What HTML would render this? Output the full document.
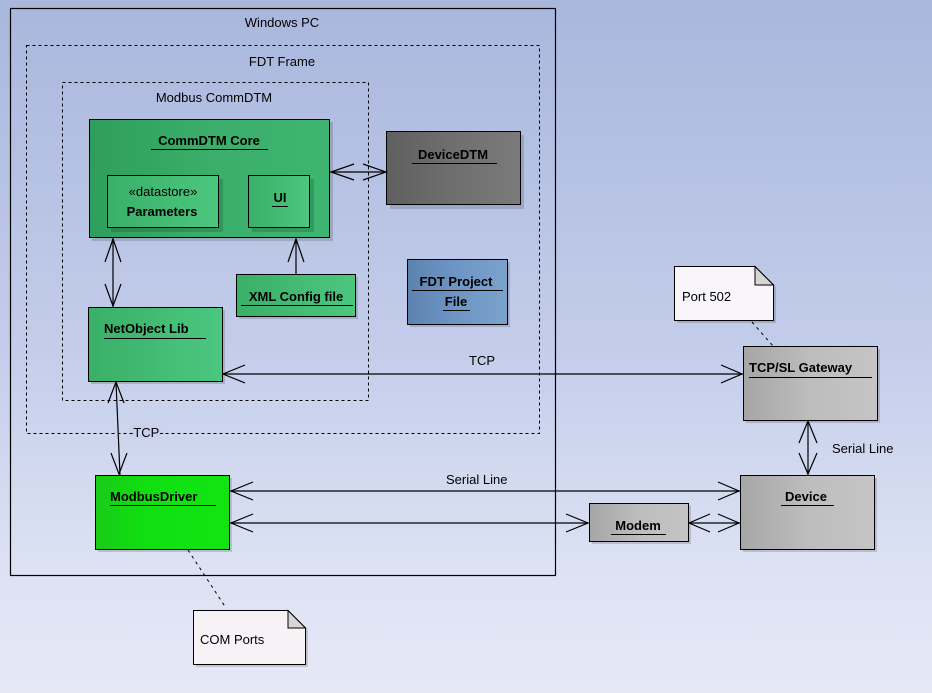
<!DOCTYPE html>
<html><head><meta charset="utf-8"><style>
html,body{margin:0;padding:0;}
body{width:932px;height:693px;overflow:hidden;}
svg{display:block;}
text{font-family:"Liberation Sans",sans-serif;font-size:13px;fill:#000;}
.b{font-weight:bold;}
</style></head><body>
<svg width="932" height="693" viewBox="0 0 932 693" xmlns="http://www.w3.org/2000/svg">
<defs>
<linearGradient id="bg" x1="0" y1="0" x2="0" y2="1">
<stop offset="0" stop-color="#a9b7dd"/><stop offset="0.5" stop-color="#c3cdea"/><stop offset="0.8" stop-color="#dbe1f3"/><stop offset="1" stop-color="#e6e8f6"/>
</linearGradient>
<linearGradient id="gr" x1="0" y1="0" x2="1" y2="0">
<stop offset="0" stop-color="#2e9e5c"/><stop offset="0.5" stop-color="#3aae6a"/><stop offset="1" stop-color="#3fb572"/></linearGradient>
<linearGradient id="gr2" x1="0" y1="0" x2="1" y2="0">
<stop offset="0" stop-color="#3aaf68"/><stop offset="1" stop-color="#4cc77f"/></linearGradient>
<linearGradient id="lg" x1="0" y1="0" x2="1" y2="0">
<stop offset="0" stop-color="#18cc18"/><stop offset="0.4" stop-color="#10e010"/><stop offset="1" stop-color="#12e412"/></linearGradient>
<linearGradient id="dg" x1="0" y1="0" x2="1" y2="0">
<stop offset="0" stop-color="#5f5f5f"/><stop offset="0.5" stop-color="#6f6f6f"/><stop offset="1" stop-color="#7a7a7a"/></linearGradient>
<linearGradient id="lgy" x1="0" y1="0" x2="1" y2="0">
<stop offset="0" stop-color="#a6a6a6"/><stop offset="0.5" stop-color="#bdbdbd"/><stop offset="1" stop-color="#c6c4c6"/></linearGradient>
<linearGradient id="bl" x1="0" y1="0" x2="1" y2="0">
<stop offset="0" stop-color="#5c82b0"/><stop offset="0.5" stop-color="#6e96c4"/><stop offset="1" stop-color="#7aa2cc"/></linearGradient>
</defs>
<rect width="932" height="693" fill="url(#bg)"/>

<rect x="10.5" y="8.5" width="545" height="567" fill="none" stroke="#000" stroke-width="1.2"/>
<text x="282" y="27" text-anchor="middle">Windows PC</text>
<rect x="26.5" y="45.5" width="513" height="388" fill="none" stroke="#000" stroke-dasharray="3,3"/>
<text x="282" y="66" text-anchor="middle">FDT Frame</text>
<rect x="62.5" y="82.5" width="306" height="318" fill="none" stroke="#000" stroke-dasharray="3,3"/>
<text x="214" y="102" text-anchor="middle">Modbus CommDTM</text>

<g fill="#000" opacity="0.15">
<rect x="92" y="122" width="241" height="119"/>
<rect x="390" y="135" width="134" height="74"/>
<rect x="239" y="277" width="119" height="42"/>
<rect x="410" y="262" width="100" height="65"/>
<rect x="91" y="310" width="134" height="74"/>
<rect x="98" y="478" width="134" height="74"/>
<rect x="746" y="349" width="134" height="74"/>
<rect x="743" y="478" width="134" height="74"/>
<rect x="592" y="506" width="99" height="38"/>
<path d="M677 269 H758 L776 287 V323 H677 Z"/>
<path d="M196 613 H291 L308 630 V667 H196 Z"/>
</g>

<rect x="89.5" y="119.5" width="240" height="118" fill="url(#gr)" stroke="#000"/>
<text x="209" y="145" text-anchor="middle" class="b">CommDTM Core</text>
<line x1="151" y1="149.5" x2="268" y2="149.5" stroke="#000"/>
<rect x="111" y="179" width="112" height="53" fill="#000" opacity="0.15"/>
<rect x="107.5" y="175.5" width="111" height="52" fill="url(#gr2)" stroke="#000"/>
<text x="163" y="196" text-anchor="middle">«datastore»</text>
<text x="162" y="216" text-anchor="middle" class="b">Parameters</text>
<rect x="252" y="179" width="62" height="53" fill="#000" opacity="0.15"/>
<rect x="248.5" y="175.5" width="61" height="52" fill="url(#gr2)" stroke="#000"/>
<text x="280" y="202" text-anchor="middle" class="b">UI</text>
<line x1="272" y1="206.5" x2="288" y2="206.5" stroke="#000"/>

<rect x="386.5" y="131.5" width="134" height="73" fill="url(#dg)" stroke="#000"/>
<text x="453" y="159" text-anchor="middle" class="b" font-size="14">DeviceDTM</text>
<line x1="412" y1="163.5" x2="497" y2="163.5" stroke="#000"/>

<rect x="236.5" y="274.5" width="119" height="42" fill="url(#gr2)" stroke="#000"/>
<text x="296" y="301" text-anchor="middle" class="b">XML Config file</text>
<line x1="241" y1="305.5" x2="353" y2="305.5" stroke="#000"/>

<rect x="407.5" y="259.5" width="100" height="65" fill="url(#bl)" stroke="#000"/>
<text x="456" y="286" text-anchor="middle" class="b">FDT Project</text>
<line x1="412" y1="290.5" x2="503" y2="290.5" stroke="#000"/>
<text x="456" y="306" text-anchor="middle" class="b">File</text>
<line x1="443" y1="310.5" x2="470" y2="310.5" stroke="#000"/>

<rect x="88.5" y="307.5" width="134" height="74" fill="url(#gr2)" stroke="#000"/>
<text x="104" y="333" class="b">NetObject Lib</text>
<line x1="104" y1="338.5" x2="206" y2="338.5" stroke="#000"/>

<rect x="95.5" y="475.5" width="134" height="74" fill="url(#lg)" stroke="#000"/>
<text x="110" y="501" class="b">ModbusDriver</text>
<line x1="110" y1="505.5" x2="216" y2="505.5" stroke="#000"/>

<rect x="743.5" y="346.5" width="134" height="74" fill="url(#lgy)" stroke="#000"/>
<text x="749" y="372" class="b">TCP/SL Gateway</text>
<line x1="749" y1="377.5" x2="872" y2="377.5" stroke="#000"/>

<rect x="740.5" y="475.5" width="134" height="74" fill="url(#lgy)" stroke="#000"/>
<text x="806" y="501" text-anchor="middle" class="b" font-size="14">Device</text>
<line x1="781" y1="505.5" x2="834" y2="505.5" stroke="#000"/>

<rect x="589.5" y="503.5" width="99" height="38" fill="url(#lgy)" stroke="#000"/>
<text x="638" y="530" text-anchor="middle" class="b">Modem</text>
<line x1="611" y1="534.5" x2="666" y2="534.5" stroke="#000"/>

<path d="M674.5 266.5 H755 L773.5 285 V320.5 H674.5 Z" fill="#f8f6fa" stroke="#000"/>
<path d="M755 266.5 V285 H773.5 Z" fill="#d6d6d6" stroke="#000"/>
<text x="682" y="301">Port 502</text>
<path d="M193.5 610.5 H288 L305.5 628 V664.5 H193.5 Z" fill="#f6f2f6" stroke="#000"/>
<path d="M288 610.5 V628 H305.5 Z" fill="#d6d6d6" stroke="#000"/>
<text x="200" y="644">COM Ports</text>

<line x1="752" y1="322" x2="773" y2="346" stroke="#000" stroke-dasharray="3,4"/>
<line x1="188" y1="550" x2="226" y2="608" stroke="#000" stroke-dasharray="3,4"/>

<g stroke="#000" stroke-width="1.2" fill="none">
<line x1="330" y1="172" x2="386" y2="172"/>
<polyline points="354,164 331,172 354,180"/>
<polyline points="363,164 386,172 363,180"/>
<line x1="113" y1="238" x2="113" y2="307"/>
<polyline points="105,262 113,239 121,262"/>
<polyline points="105,284 113,306 121,284"/>
<line x1="296" y1="274" x2="296" y2="239"/>
<polyline points="288,262 296,239 304,262"/>
<line x1="222" y1="374" x2="743" y2="374"/>
<polyline points="245,365 223,374 245,383"/>
<polyline points="721,365 742,374 721,383"/>
<line x1="116" y1="382" x2="120" y2="475"/>
<polyline points="108,403 116,382 124,403"/>
<polyline points="111,453 119,474 127,453"/>
<line x1="229" y1="491" x2="740" y2="491"/>
<polyline points="253,482 231,491 253,500"/>
<polyline points="718,482 739,491 718,500"/>
<line x1="229" y1="523" x2="589" y2="523"/>
<polyline points="253,514 231,523 253,532"/>
<polyline points="566,514 588,523 566,532"/>
<line x1="688" y1="523" x2="740" y2="523"/>
<polyline points="710,514 689,523 710,532"/>
<polyline points="718,514 739,523 718,532"/>
<line x1="808" y1="421" x2="808" y2="475"/>
<polyline points="799,443 808,421 817,443"/>
<polyline points="799,453 808,474 817,453"/>
</g>

<rect x="129" y="425" width="32" height="14" fill="#c9d1ec"/>
<text x="129" y="437">-TCP-</text>
<text x="469" y="365">TCP</text>
<text x="446" y="484">Serial Line</text>
<text x="832" y="453">Serial Line</text>
</svg>
</body></html>
